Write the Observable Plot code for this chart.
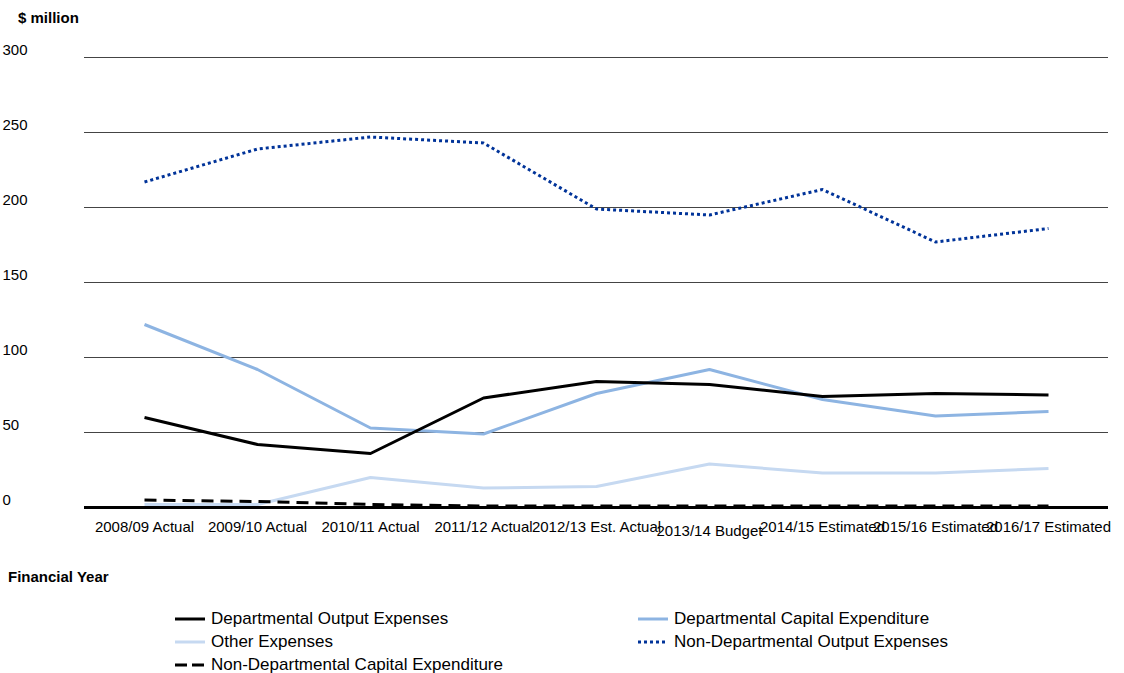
<!DOCTYPE html>
<html>
<head>
<meta charset="utf-8">
<script src="https://cdn.jsdelivr.net/npm/d3@7"></script>
<script src="https://cdn.jsdelivr.net/npm/@observablehq/plot@0.6"></script>
<style>
  html, body { margin: 0; padding: 0; background: #fff; }
  body { width: 1124px; height: 673px; position: relative; overflow: hidden; font-family: "Liberation Sans", Arial, sans-serif; color: #000; }
  #ytitle { position: absolute; left: 18px; top: 9px; font-size: 15px; font-weight: bold; line-height: 18px; }
  #chart { position: absolute; left: 0; top: 30px; }
  #xtitle { position: absolute; left: 8px; top: 568px; font-size: 15px; font-weight: bold; line-height: 18px; }
  .leg { position: absolute; font-size: 17px; line-height: 20px; white-space: nowrap; display: flex; align-items: center; }
  .leg svg { margin-right: 6px; }
</style>
</head>
<body>
<div id="ytitle">$ million</div>
<div id="chart"></div>
<div id="xtitle">Financial Year</div>
<div id="legend"></div>
<script>
const years = ["2008/09 Actual","2009/10 Actual","2010/11 Actual","2011/12 Actual","2012/13 Est. Actual","2013/14 Budget","2014/15 Estimated","2015/16 Estimated","2016/17 Estimated"];
const deptOutput = [60, 42, 36, 73, 84, 82, 74, 76, 75];
const deptCapital = [122, 92, 53, 49, 76, 92, 72, 61, 64];
const otherExp = [2, 2, 20, 13, 14, 29, 23, 23, 26];
const nonDeptOutput = [217, 239, 247, 243, 199, 195, 212, 177, 186];
const nonDeptCapital = [5, 4, 2, 1, 1, 1, 1, 1, 1];
const yTicks = [0, 50, 100, 150, 200, 250, 300];

const seriesDefs = [
  {name: "Departmental Output Expenses", values: deptOutput, color: "#000000", dash: null},
  {name: "Departmental Capital Expenditure", values: deptCapital, color: "#8db4e2", dash: null},
  {name: "Other Expenses", values: otherExp, color: "#c6d9f1", dash: null},
  {name: "Non-Departmental Output Expenses", values: nonDeptOutput, color: "#003399", dash: "3,3"},
  {name: "Non-Departmental Capital Expenditure", values: nonDeptCapital, color: "#000000", dash: "12,7"}
];
const rows = s => years.map((y, i) => ({year: y, value: s.values[i]}));

const lineMarks = seriesDefs.map(s => Plot.line(rows(s), {
  x: "year", y: "value", stroke: s.color, strokeWidth: 3,
  strokeDasharray: s.dash || undefined, strokeLinecap: "butt", strokeLinejoin: "round"
}));

const chart = Plot.plot({
  width: 1124,
  height: 525,
  marginTop: 27,
  marginBottom: 48,
  marginLeft: 84,
  marginRight: 16,
  style: {fontFamily: "'Liberation Sans', Arial, sans-serif", fontSize: "15px", color: "#000", background: "#fff"},
  x: {type: "point", domain: years, padding: 0.5},
  y: {domain: [0, 300]},
  marks: [
    Plot.ruleY(yTicks.filter(t => t > 0), {stroke: "#444", strokeWidth: 1}),
    Plot.ruleY([0], {stroke: "#000", strokeWidth: 3}),
    Plot.axisY({ticks: yTicks, tickSize: 0, textAnchor: "start", dx: -73, dy: -7, label: null, fontSize: 15}),
    Plot.axisX({ticks: years.filter(y => y !== "2013/14 Budget"), tickSize: 0, tickPadding: 14, label: null, fontSize: 15}),
    Plot.axisX({ticks: ["2013/14 Budget"], tickSize: 0, tickPadding: 18, label: null, fontSize: 15}),
    lineMarks[2],
    lineMarks[1],
    lineMarks[0],
    lineMarks[3],
    lineMarks[4]
  ]
});
document.getElementById("chart").appendChild(chart);

// legend
const legendPos = [
  {i: 0, left: 175, top: 609},
  {i: 1, left: 638, top: 609},
  {i: 2, left: 175, top: 632},
  {i: 3, left: 638, top: 632},
  {i: 4, left: 175, top: 655}
];
const legend = document.getElementById("legend");
legendPos.forEach(p => {
  const s = seriesDefs[p.i];
  const div = document.createElement("div");
  div.className = "leg";
  div.style.left = p.left + "px";
  div.style.top = p.top + "px";
  const dash = s.i === 4 ? "12,5" : (s.dash || "");
  div.innerHTML = `<svg width="30" height="20"><line x1="0" x2="30" y1="10" y2="10" stroke="${s.color}" stroke-width="3" ${s.dash ? `stroke-dasharray="${p.i === 4 ? "12,5" : s.dash}"` : ""}/></svg><span>${s.name}</span>`;
  legend.appendChild(div);
});
</script>
</body>
</html>
